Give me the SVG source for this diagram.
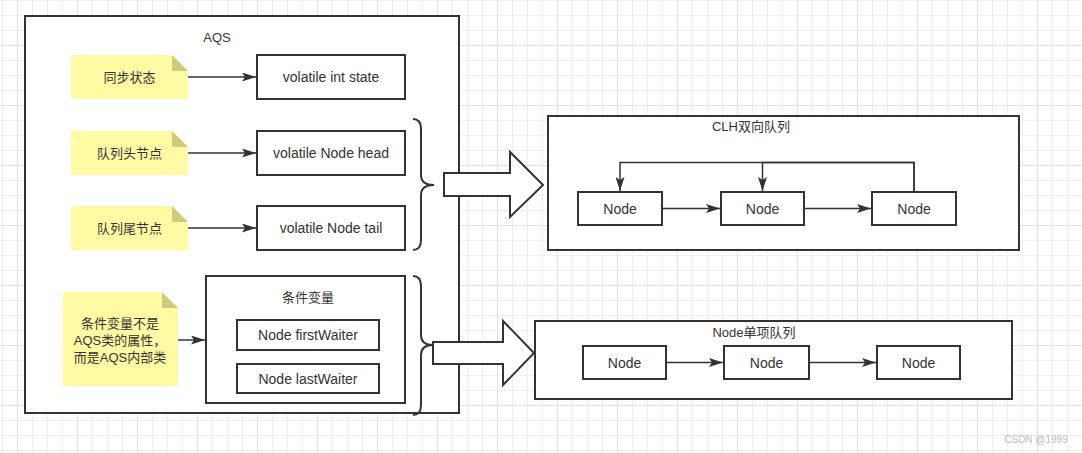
<svg xmlns="http://www.w3.org/2000/svg" width="1082" height="453" viewBox="0 0 1082 453">
  <defs>
    <pattern id="grid" x="2" y="0" width="60" height="60" patternUnits="userSpaceOnUse">
      <path d="M0.5,0V60M15.5,0V60M30.5,0V60M45.5,0V60M0,0.5H60M0,15.5H60M0,30.5H60M0,45.5H60" stroke="#efefef" stroke-width="1" fill="none"/>
      <path d="M15.5,0V60M0,45.5H60" stroke="#e2e2e2" stroke-width="1" fill="none"/>
    </pattern>
    <marker id="arr" viewBox="0 0 14 9" refX="14" refY="4.5" markerWidth="14" markerHeight="9" markerUnits="userSpaceOnUse" orient="auto">
      <path d="M0,0 L14,4.5 L0,9 L3,4.5 Z" fill="#333"/>
    </marker>
    <style>
      .box{fill:#fff;stroke:#333;stroke-width:2}
      .note{fill:#fffaa3;stroke:none}
      .fold{fill:#cfcb7c;stroke:none}
      .t{font-family:"Liberation Sans","Noto Sans CJK SC",sans-serif;font-size:14px;fill:#333;text-anchor:middle;dominant-baseline:central}
      .c{font-size:13px}
      .edge{fill:none;stroke:#333;stroke-width:1.5}
      .brace{fill:none;stroke:#333;stroke-width:2}
      .big{fill:#fff;stroke:#333;stroke-width:2;stroke-linejoin:miter}
    </style>
  </defs>
  <rect width="1082" height="453" fill="#fff"/>
  <rect width="1082" height="453" fill="url(#grid)"/>

  <g id="aqs">
    <rect class="box" x="25" y="16" width="434" height="397"/>
    <text class="t c" x="217" y="37">AQS</text>
  </g>

  <g id="note-sync">
    <path class="note" d="M71,55H172L188,71V99H71Z"/>
    <path class="fold" d="M172,55V71H188Z"/>
    <text class="t c" x="129.5" y="77">同步状态</text>
  </g>
  <g id="note-head">
    <path class="note" d="M71,131H172L188,147V175H71Z"/>
    <path class="fold" d="M172,131V147H188Z"/>
    <text class="t c" x="129.5" y="153">队列头节点</text>
  </g>
  <g id="note-tail">
    <path class="note" d="M71,206H172L188,222V250H71Z"/>
    <path class="fold" d="M172,206V222H188Z"/>
    <text class="t c" x="129.5" y="228">队列尾节点</text>
  </g>
  <g id="note-cond">
    <path class="note" d="M63,292H162L178,308V386H63Z"/>
    <path class="fold" d="M162,292V308H178Z"/>
    <text class="t c" x="120" y="323">条件变量不是</text>
    <text class="t c" x="120" y="340">AQS类的属性，</text>
    <text class="t c" x="120" y="357">而是AQS内部类</text>
  </g>

  <g id="state">
    <rect class="box" x="257" y="55" width="148" height="44"/>
    <text class="t" x="331" y="77">volatile int state</text>
  </g>
  <g id="head">
    <rect class="box" x="257" y="131" width="148" height="44"/>
    <text class="t" x="331" y="153">volatile Node head</text>
  </g>
  <g id="tail">
    <rect class="box" x="257" y="206" width="148" height="44"/>
    <text class="t" x="331" y="228">volatile Node tail</text>
  </g>
  <g id="condition">
    <rect class="box" x="206" y="276" width="199" height="127"/>
    <text class="t c" x="308" y="297">条件变量</text>
  </g>
  <g id="firstWaiter">
    <rect class="box" x="237" y="320" width="142" height="30"/>
    <text class="t" x="308" y="335">Node firstWaiter</text>
  </g>
  <g id="lastWaiter">
    <rect class="box" x="237" y="364" width="142" height="29"/>
    <text class="t" x="308" y="378.5">Node lastWaiter</text>
  </g>

  <g id="brace1">
    <path class="brace" d="M413,119Q421,119 421,129V175Q421,185 434,185Q421,185 421,195V240Q421,250 413,250"/>
  </g>
  <g id="brace2">
    <path class="brace" d="M413,276Q421,276 421,286V335Q421,345 433,345Q421,345 421,355V405Q421,415 413,415"/>
  </g>

  <g id="bigarrow1">
    <path class="big" d="M444,173H510V152L543,185L510,217V196H444Z"/>
  </g>
  <g id="bigarrow2">
    <path class="big" d="M433,342H503V321L534,353L503,385V364H433Z"/>
  </g>

  <g id="clh">
    <rect class="box" x="548" y="116" width="471" height="134"/>
    <text class="t c" x="751" y="126">CLH双向队列</text>
  </g>
  <g id="clh-node1">
    <rect class="box" x="578" y="192" width="84" height="33"/>
    <text class="t" x="620" y="208.5">Node</text>
  </g>
  <g id="clh-node2">
    <rect class="box" x="721" y="192" width="83" height="33"/>
    <text class="t" x="762.5" y="208.5">Node</text>
  </g>
  <g id="clh-node3">
    <rect class="box" x="872" y="192" width="84" height="33"/>
    <text class="t" x="914" y="208.5">Node</text>
  </g>

  <g id="queue">
    <rect class="box" x="535" y="321" width="477" height="78"/>
    <text class="t c" x="754" y="332">Node单项队列</text>
  </g>
  <g id="q-node1">
    <rect class="box" x="583" y="346" width="83" height="33"/>
    <text class="t" x="624.5" y="362.5">Node</text>
  </g>
  <g id="q-node2">
    <rect class="box" x="724" y="346" width="85" height="33"/>
    <text class="t" x="766.5" y="362.5">Node</text>
  </g>
  <g id="q-node3">
    <rect class="box" x="877" y="346" width="83" height="33"/>
    <text class="t" x="918.5" y="362.5">Node</text>
  </g>

  <g id="connectors">
    <path class="edge" d="M188,77H256" marker-end="url(#arr)"/>
    <path class="edge" d="M188,153H256" marker-end="url(#arr)"/>
    <path class="edge" d="M188,228H256" marker-end="url(#arr)"/>
    <path class="edge" d="M178,340H205" marker-end="url(#arr)"/>
    <path class="edge" d="M662,208.5H720" marker-end="url(#arr)"/>
    <path class="edge" d="M804,208.5H871" marker-end="url(#arr)"/>
    <path class="edge" d="M914,192V162.5H620V191" marker-end="url(#arr)"/>
    <path class="edge" d="M914,192V162.5H762.5V191" marker-end="url(#arr)"/>
    <path class="edge" d="M666,362.5H723" marker-end="url(#arr)"/>
    <path class="edge" d="M809,362.5H876" marker-end="url(#arr)"/>
  </g>

  <text x="1036" y="439" style="font-family:'Liberation Sans',sans-serif;font-size:10px;fill:#bbb;text-anchor:middle;dominant-baseline:central">CSDN @1999</text>
</svg>
